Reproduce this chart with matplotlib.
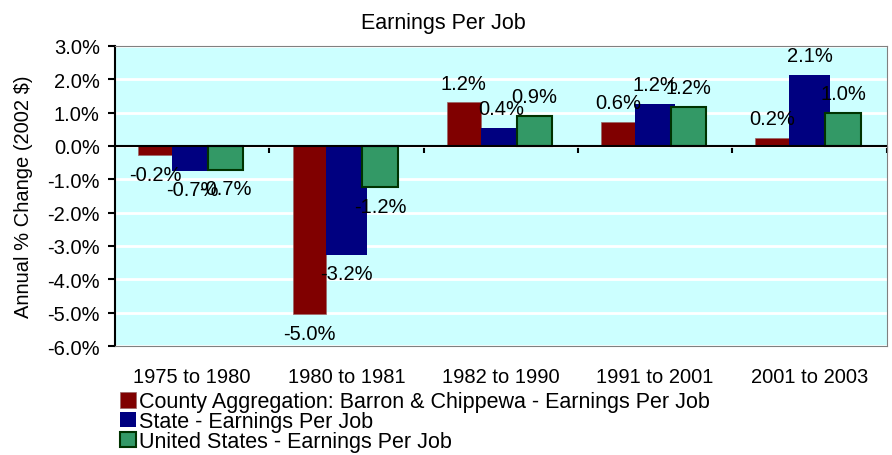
import numpy as np
import matplotlib.pyplot as plt
from matplotlib.ticker import FuncFormatter

plt.rcParams["font.family"] = ["Liberation Sans", "DejaVu Sans"]

#%% data

periods = ["1975 to 1980", "1980 to 1981", "1982 to 1990", "1991 to 2001", "2001 to 2003"]
county = [-0.27, -5.05, 1.31, 0.72, 0.25]
state = [-0.74, -3.26, 0.54, 1.26, 2.14]
usa = [-0.71, -1.24, 0.91, 1.18, 0.99]
county_labels = ["-0.2%", "-5.0%", "1.2%", "0.6%", "0.2%"]
state_labels = ["-0.7%", "-3.2%", "0.4%", "1.2%", "2.1%"]
usa_labels = ["-0.7%", "-1.2%", "0.9%", "1.2%", "1.0%"]
series_names = ["County Aggregation: Barron & Chippewa - Earnings Per Job",
                "State - Earnings Per Job",
                "United States - Earnings Per Job"]

FS = 14.5

#%% plot

fig = plt.figure(figsize=(8.92, 4.56), dpi=100)
ax = fig.add_axes([0.129, 0.239, 0.865, 0.658])
ax.set_facecolor("#CCFFFF")

x = np.arange(len(periods))
b1 = ax.bar(x - 0.24, county, 0.22, color="#800000", edgecolor="#996666", linewidth=0.5, zorder=3)
b2 = ax.bar(x, state, 0.26, color="#000080", linewidth=0, zorder=3)
b3 = ax.bar(x + 0.217, usa, 0.23, color="#339966", edgecolor="#003300", linewidth=1.5, zorder=4)

for bars, vals, labs in [(b1, county, county_labels), (b2, state, state_labels), (b3, usa, usa_labels)]:
    for b, v, t in zip(bars, vals, labs):
        off = 13.7 if v >= 0 else -13.7
        ax.annotate(t, (b.get_x() + b.get_width() / 2, v), xytext=(0, off),
                    textcoords="offset points", ha="center", va="center",
                    fontsize=FS, zorder=6)

ax.set_ylim(-6, 3)
ax.set_xlim(-0.5, len(periods) - 0.5)
ax.set_yticks(np.arange(-6, 3.1, 1))
ax.yaxis.set_major_formatter(FuncFormatter(lambda v, p: f"{v:.1f}%"))
ax.grid(axis="y", color="white", linewidth=2, zorder=1)
ax.set_axisbelow(True)
ax.set_xticks(x)
ax.set_xticklabels(periods, fontsize=FS)
ax.tick_params(axis="x", length=0, pad=15)
ax.tick_params(axis="y", labelsize=FS, direction="out", length=5, width=1.5, pad=6)
ax.set_ylabel("Annual % Change (2002 $)", fontsize=FS, labelpad=10)

for s in ["top", "right", "bottom"]:
    ax.spines[s].set_color("#808080")
ax.spines["left"].set_linewidth(1.5)

# zero line with group-boundary ticks
ax.axhline(0, color="black", linewidth=1.5, zorder=5)
sec = ax.secondary_xaxis(6 / 9)
sec.set_xticks(np.arange(len(periods)) + 0.5)
sec.set_xticklabels([])
sec.tick_params(direction="in", length=5, width=1.5)
for s in sec.spines.values():
    s.set_visible(False)

fig.text(0.4975, 0.948, "Earnings Per Job", ha="center", va="center", fontsize=15.5)

fig.legend([b1, b2, b3], series_names, loc="upper left",
           bbox_to_anchor=(0.134, 0.14), bbox_transform=fig.transFigure,
           frameon=False, fontsize=15.5, handlelength=0.75, handleheight=0.75,
           handletextpad=0.15, labelspacing=-0.05, borderpad=0, borderaxespad=0)

plt.savefig("out.png", dpi=100)
